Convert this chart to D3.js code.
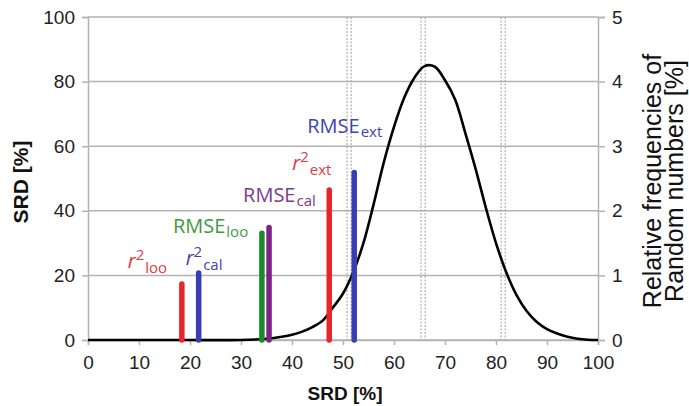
<!DOCTYPE html>
<html>
<head>
<meta charset="utf-8">
<script src="https://cdn.jsdelivr.net/npm/d3@7"></script>
<style>
  html, body { margin: 0; padding: 0; background: #fff; }
  svg { display: block; }
</style>
</head>
<body>
<svg id="chart" width="689" height="406"></svg>
<script>
// ---- data ----
const barNames   = ["r2loo", "r2cal", "RMSEloo", "RMSEcal", "r2ext", "RMSEext"];
const barMain    = ["r", "r", "RMSE", "RMSE", "r", "RMSE"];
const barSub     = ["loo", "cal", "loo", "cal", "ext", "ext"];
const barSRD     = [18.4, 21.7, 34.1, 35.5, 47.3, 52.2];      // x position (SRD %)
const barValue   = [18.1, 21.5, 33.8, 35.6, 47.2, 52.6];      // height (SRD %)
const barColors  = ["#e8262a", "#3a3cb4", "#1f8a2a", "#7e1f8a", "#e8262a", "#3a3cb4"];
const textColors = ["#e23a3f", "#4044b2", "#3f9a3f", "#7d3b8d", "#e23a3f", "#4044b2"];

const curveX = [0, 10, 20, 30, 35, 38, 40, 42, 44, 46, 48, 50, 52, 54, 56, 58, 60, 62, 64, 66,
                68, 70, 72, 74, 76, 78, 80, 82, 84, 86, 88, 90, 92, 94, 96, 98, 100];
const curveY = [0, 0, 0, 0, 0.02, 0.05, 0.08, 0.13, 0.2, 0.3, 0.5, 0.72, 1.05, 1.5, 2.1, 2.75, 3.3, 3.75, 4.06, 4.24,
                4.23, 4.02, 3.72, 3.2, 2.65, 2.05, 1.5, 1.05, 0.7, 0.45, 0.28, 0.17, 0.1, 0.05, 0.02, 0.005, 0];

const dashedX = [50.8, 51.6, 65.3, 66.1, 81.0, 81.8];

const xTicks  = [0, 10, 20, 30, 40, 50, 60, 70, 80, 90, 100];
const yTicks  = [0, 20, 40, 60, 80, 100];
const y2Ticks = [0, 1, 2, 3, 4, 5];

// ---- layout ----
const L = 88, R = 598, T = 17, B = 340;
const svg = d3.select("#chart");
const x  = d3.scaleLinear().domain([0, 100]).range([L, R]);
const y  = d3.scaleLinear().domain([0, 100]).range([B, T]);
const y2 = d3.scaleLinear().domain([0, 5]).range([B, T]);

const gridColor = "#b3b3b3";
const tickFont = "Liberation Sans, Arial, sans-serif";

// gridlines
svg.append("g").selectAll("line").data(yTicks).join("line")
  .attr("x1", L).attr("x2", R)
  .attr("y1", d => y(d)).attr("y2", d => y(d))
  .attr("stroke", gridColor).attr("stroke-width", 1.5);

// dashed verticals
svg.append("g").selectAll("line").data(dashedX).join("line")
  .attr("x1", d => x(d)).attr("x2", d => x(d))
  .attr("y1", T).attr("y2", B)
  .attr("stroke", "#a0a0a0").attr("stroke-width", 1)
  .attr("stroke-dasharray", "2,1.5");

// axes
const axL = svg.append("g").attr("transform", `translate(${L},0)`)
  .call(d3.axisLeft(y).tickValues(yTicks).tickSize(6).tickPadding(7));
const axR = svg.append("g").attr("transform", `translate(${R},0)`)
  .call(d3.axisRight(y2).tickValues(y2Ticks).tickFormat(d3.format("d")).tickSize(7).tickPadding(7));
const axB = svg.append("g").attr("transform", `translate(0,${B})`)
  .call(d3.axisBottom(x).tickValues(xTicks).tickSize(5).tickPadding(6));

[axL, axR, axB].forEach(g => {
  g.select(".domain").attr("stroke", gridColor).attr("stroke-width", 1.5);
  g.selectAll(".tick line").attr("stroke", gridColor).attr("stroke-width", 1.5);
  g.selectAll(".tick text").attr("font-family", tickFont).attr("font-size", 19).attr("fill", "#222");
});
axB.selectAll(".tick text").attr("dy", "0.95em");

// curve
svg.append("path")
  .datum(curveX.map((d, i) => [d, curveY[i]]))
  .attr("fill", "none").attr("stroke", "#000").attr("stroke-width", 2.6)
  .attr("stroke-linejoin", "round")
  .attr("d", d3.line().x(d => x(d[0])).y(d => y2(d[1])).curve(d3.curveCatmullRom.alpha(0.5)));

// bars
const bars = barNames.map((n, i) => ({ n, i, sx: barSRD[i], v: barValue[i] }));
svg.append("g").selectAll("line").data(bars).join("line")
  .attr("x1", d => x(d.sx)).attr("x2", d => x(d.sx))
  .attr("y1", y(0)).attr("y2", d => y(d.v) + 2.5)
  .attr("stroke", d => barColors[d.i]).attr("stroke-width", 5.5)
  .attr("stroke-linecap", "round");

// labels: offsets (px) from the top of each bar
const labelOffset = {
  r2loo:   [-54, -14],
  r2cal:   [-13, -6],
  RMSEloo: [-89, 2],
  RMSEcal: [-26, -23],
  r2ext:   [-37, -18],
  RMSEext: [-47, -37]
};
const labFont = "'Open Sans', sans-serif";
bars.forEach(d => {
  const [dx, dy] = labelOffset[d.n];
  const t = svg.append("text")
    .attr("x", x(d.sx) + dx).attr("y", y(d.v) + dy)
    .attr("font-family", labFont).attr("font-size", 20)
    .attr("fill", textColors[d.i]);
  const main = barMain[d.i];
  if (main === "r") {
    t.append("tspan").text("r").attr("font-style", "italic");
    t.append("tspan").text("2").attr("font-size", 15).attr("dy", -8);
    t.append("tspan").text(barSub[d.i]).attr("font-size", 15).attr("dy", 13).attr("dx", 1);
  } else {
    t.append("tspan").text(main);
    t.append("tspan").text(barSub[d.i]).attr("font-size", 15).attr("dy", 4).attr("dx", 1);
  }
});

// axis titles
svg.append("text")
  .attr("transform", `translate(28,182) rotate(-90)`)
  .attr("text-anchor", "middle")
  .attr("font-family", tickFont).attr("font-weight", "bold").attr("font-size", 21)
  .attr("fill", "#111").text("SRD [%]");

svg.append("text")
  .attr("x", 345).attr("y", 400)
  .attr("text-anchor", "middle")
  .attr("font-family", tickFont).attr("font-weight", "bold").attr("font-size", 19)
  .attr("fill", "#111").text("SRD [%]");

const rt = svg.append("text")
  .attr("transform", `translate(661,181) rotate(-90)`)
  .attr("text-anchor", "middle")
  .attr("font-family", tickFont).attr("font-size", 25)
  .attr("fill", "#111");
rt.append("tspan").attr("x", 0).attr("dy", 0).text("Relative frequencies of");
rt.append("tspan").attr("x", 0).attr("dy", 22).text("Random numbers [%]");
</script>
</body>
</html>
